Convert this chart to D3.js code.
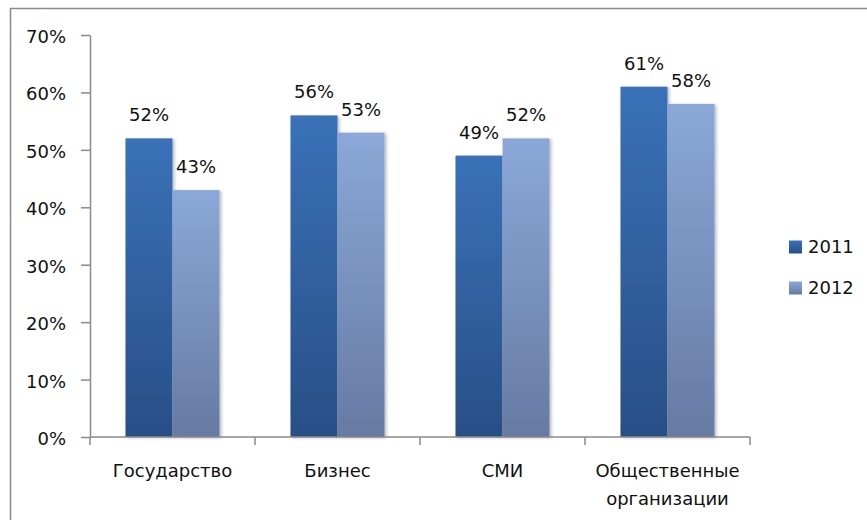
<!DOCTYPE html>
<html><head><meta charset="utf-8">
<script src="https://cdn.jsdelivr.net/npm/d3@7"></script>
<style>
html,body{margin:0;padding:0;background:#fff;}
svg{display:block;font-family:"DejaVu Sans",Verdana,sans-serif;}
</style></head>
<body>
<svg id="chart" width="867" height="520"></svg>
<script>
const categories = [["Государство"], ["Бизнес"], ["СМИ"], ["Общественные", "организации"]];
const seriesNames = ["2011", "2012"];
const values2011 = [52, 56, 49, 61];
const values2012 = [43, 53, 52, 58];
const yTicks = [0, 10, 20, 30, 40, 50, 60, 70];

const svg = d3.select("#chart");
const W = 867, H = 520;
const margin = {left: 90, right: 117, top: 35, bottom: 83};
const plotW = W - margin.left - margin.right; // 660
const plotH = H - margin.top - margin.bottom; // 402

// outer frame
svg.append("rect").attr("x", 10.5).attr("y", 8.5).attr("width", 900).attr("height", 600)
  .attr("fill", "none").attr("stroke", "#8a8a8a").attr("stroke-width", 1.5);

const defs = svg.append("defs");
const grads = [["g2011", "#3a71b8", "#284f86"], ["g2012", "#8ba8d8", "#667aa3"]];
grads.forEach(([id, c1, c2]) => {
  const g = defs.append("linearGradient").attr("id", id).attr("x1", 0).attr("y1", 0).attr("x2", 0).attr("y2", 1);
  g.append("stop").attr("offset", "0%").attr("stop-color", c1);
  g.append("stop").attr("offset", "100%").attr("stop-color", c2);
});
const f = defs.append("filter").attr("id", "shadow").attr("x", "-20%").attr("y", "-10%").attr("width", "140%").attr("height", "120%");
f.append("feDropShadow").attr("dx", 2).attr("dy", 1).attr("stdDeviation", 1.5).attr("flood-color", "#000").attr("flood-opacity", 0.25);

const g = svg.append("g").attr("transform", `translate(${margin.left},${margin.top})`);

const catKeys = categories.map(c => c.join(" "));
const x = d3.scaleBand().domain(catKeys).range([0, plotW]).paddingInner(0).paddingOuter(0);
const y = d3.scaleLinear().domain([0, 70]).range([plotH, 0]);
const groupW = x.bandwidth() * 0.57;
const x1 = d3.scaleBand().domain(seriesNames).range([0, groupW]).padding(0);

const data = catKeys.map((k, i) => ({key: k, vals: [values2011[i], values2012[i]]}));

const groups = g.selectAll(".grp").data(data).join("g")
  .attr("transform", d => `translate(${x(d.key) + (x.bandwidth() - groupW) / 2},0)`);

groups.selectAll("rect").data(d => d.vals.map((v, j) => ({v, s: seriesNames[j], j})))
  .join("rect")
  .attr("x", d => x1(d.s))
  .attr("y", d => y(d.v))
  .attr("width", x1.bandwidth())
  .attr("height", d => plotH - y(d.v))
  .attr("fill", d => `url(#g${d.s})`)
  .attr("filter", "url(#shadow)");

groups.selectAll("text").data(d => d.vals.map((v, j) => ({v, s: seriesNames[j]})))
  .join("text")
  .attr("x", d => x1(d.s) + x1.bandwidth() / 2)
  .attr("y", d => y(d.v) - 17)
  .attr("text-anchor", "middle")
  .attr("font-size", 18)
  .attr("fill", "#111")
  .text(d => d.v + "%");

// Y axis
const yAxis = g.append("g").call(d3.axisLeft(y).tickValues(yTicks).tickSize(9).tickSizeOuter(0).tickFormat(d => d + "%"));
yAxis.select(".domain").attr("stroke", "#8a8a8a").attr("stroke-width", 1.5);
yAxis.selectAll(".tick line").attr("stroke", "#8a8a8a").attr("stroke-width", 1.5);
yAxis.selectAll(".tick text").attr("font-size", 18).attr("fill", "#111").attr("x", -24)
  .attr("font-family", "DejaVu Sans, sans-serif").attr("dy", "0.42em");

// X axis
const xAxisG = g.append("g").attr("transform", `translate(0,${plotH})`);
xAxisG.append("line").attr("x1", 0).attr("x2", plotW).attr("y1", 0).attr("y2", 0)
  .attr("stroke", "#8a8a8a").attr("stroke-width", 1.5);
const boundaries = catKeys.map(k => x(k)).concat([plotW]);
xAxisG.selectAll(".xt").data(boundaries).join("line")
  .attr("x1", d => d).attr("x2", d => d).attr("y1", 0).attr("y2", 8)
  .attr("stroke", "#8a8a8a").attr("stroke-width", 1.5);
xAxisG.selectAll(".xl").data(categories).join("text")
  .attr("x", (d, i) => x(catKeys[i]) + x.bandwidth() / 2)
  .attr("y", 40)
  .attr("text-anchor", "middle")
  .attr("font-size", 18)
  .attr("fill", "#111")
  .each(function(d) {
    const t = d3.select(this);
    d.forEach((line, li) => t.append("tspan").attr("x", t.attr("x")).attr("dy", li === 0 ? 0 : 28).text(line));
  });

// Legend
const legend = svg.append("g");
const legendY = [247, 288];
seriesNames.forEach((s, i) => {
  legend.append("rect").attr("x", 789).attr("y", legendY[i] - 6.5).attr("width", 13).attr("height", 13)
    .attr("fill", `url(#g${s})`);
  legend.append("text").attr("x", 808).attr("y", legendY[i]).attr("dy", "0.36em")
    .attr("font-size", 18).attr("fill", "#111").text(s);
});
</script>
</body></html>
